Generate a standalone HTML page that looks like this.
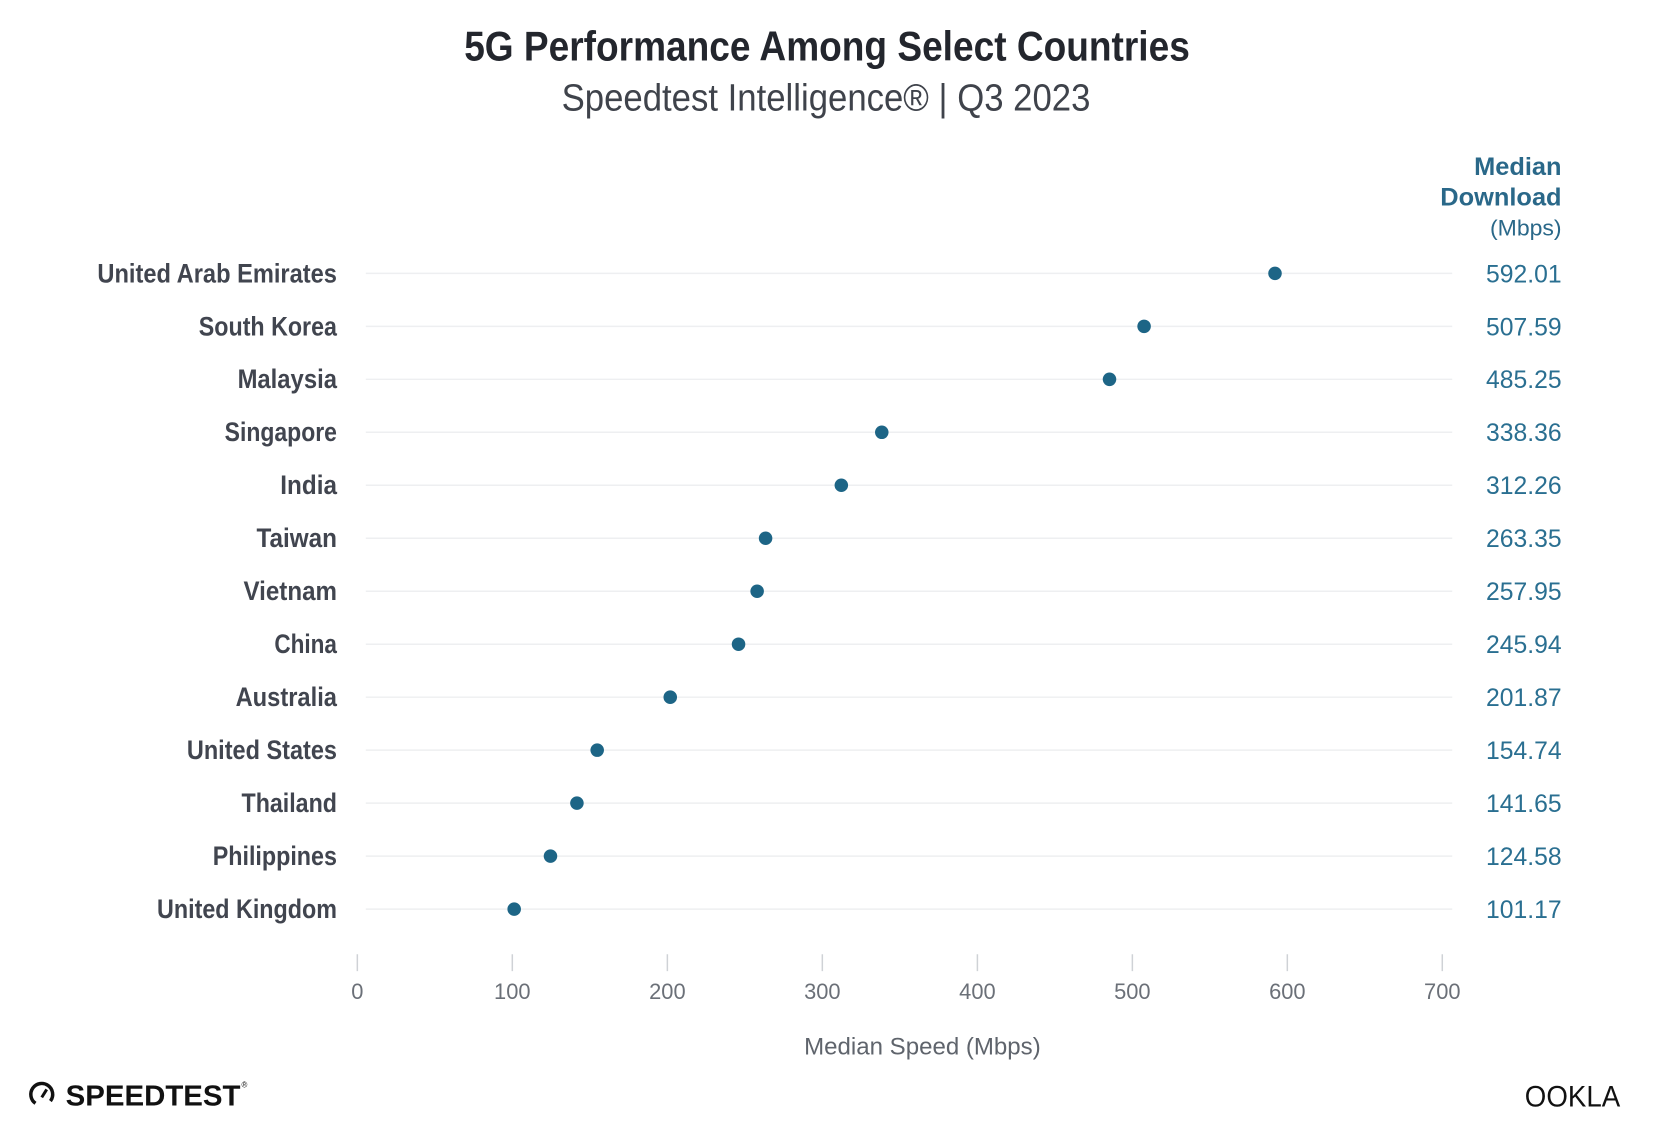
<!DOCTYPE html>
<html><head><meta charset="utf-8"><style>
html,body{margin:0;padding:0;background:#fff;}
svg{display:block;font-family:"Liberation Sans",sans-serif;}
</style></head><body>
<svg width="1664" height="1148" viewBox="0 0 1664 1148" xmlns="http://www.w3.org/2000/svg">
<g transform="scale(0.994)">
<text x="832" y="61" text-anchor="middle" font-size="42" font-weight="bold" fill="#23262d" textLength="730" lengthAdjust="spacingAndGlyphs">5G Performance Among Select Countries</text>
<text x="831" y="111" text-anchor="middle" font-size="38" fill="#3f434b" textLength="532" lengthAdjust="spacingAndGlyphs">Speedtest Intelligence® | Q3 2023</text>
<g fill="#2a6889" text-anchor="end">
<text x="1571" y="176" font-size="25" font-weight="bold" textLength="88" lengthAdjust="spacingAndGlyphs">Median</text>
<text x="1571" y="207" font-size="25" font-weight="bold" textLength="122" lengthAdjust="spacingAndGlyphs">Download</text>
<text x="1571" y="237" font-size="22" textLength="72" lengthAdjust="spacingAndGlyphs">(Mbps)</text>
</g>
<g stroke="#eeeff1" stroke-width="1.5">
<line x1="368" y1="275" x2="1461" y2="275"/><line x1="368" y1="328.3" x2="1461" y2="328.3"/><line x1="368" y1="381.6" x2="1461" y2="381.6"/><line x1="368" y1="434.9" x2="1461" y2="434.9"/><line x1="368" y1="488.2" x2="1461" y2="488.2"/><line x1="368" y1="541.5" x2="1461" y2="541.5"/><line x1="368" y1="594.8" x2="1461" y2="594.8"/><line x1="368" y1="648.1" x2="1461" y2="648.1"/><line x1="368" y1="701.4" x2="1461" y2="701.4"/><line x1="368" y1="754.7" x2="1461" y2="754.7"/><line x1="368" y1="808" x2="1461" y2="808"/><line x1="368" y1="861.3" x2="1461" y2="861.3"/><line x1="368" y1="914.6" x2="1461" y2="914.6"/>
</g>
<g font-size="27" font-weight="bold" fill="#41454f" text-anchor="end">
<text x="339" y="284" textLength="241" lengthAdjust="spacingAndGlyphs">United Arab Emirates</text>
<text x="339" y="337.3" textLength="139" lengthAdjust="spacingAndGlyphs">South Korea</text>
<text x="339" y="390.6" textLength="100" lengthAdjust="spacingAndGlyphs">Malaysia</text>
<text x="339" y="443.9" textLength="113" lengthAdjust="spacingAndGlyphs">Singapore</text>
<text x="339" y="497.2" textLength="57" lengthAdjust="spacingAndGlyphs">India</text>
<text x="339" y="550.5" textLength="81" lengthAdjust="spacingAndGlyphs">Taiwan</text>
<text x="339" y="603.8" textLength="94" lengthAdjust="spacingAndGlyphs">Vietnam</text>
<text x="339" y="657.1" textLength="63" lengthAdjust="spacingAndGlyphs">China</text>
<text x="339" y="710.4" textLength="102" lengthAdjust="spacingAndGlyphs">Australia</text>
<text x="339" y="763.7" textLength="151" lengthAdjust="spacingAndGlyphs">United States</text>
<text x="339" y="817" textLength="96" lengthAdjust="spacingAndGlyphs">Thailand</text>
<text x="339" y="870.3" textLength="125" lengthAdjust="spacingAndGlyphs">Philippines</text>
<text x="339" y="923.6" textLength="181" lengthAdjust="spacingAndGlyphs">United Kingdom</text>
</g>
<g fill="#1d6586">
<circle cx="1282.7" cy="275" r="6.8"/><circle cx="1151" cy="328.3" r="6.8"/><circle cx="1116.2" cy="381.6" r="6.8"/><circle cx="887.1" cy="434.9" r="6.8"/><circle cx="846.4" cy="488.2" r="6.8"/><circle cx="770.2" cy="541.5" r="6.8"/><circle cx="761.7" cy="594.8" r="6.8"/><circle cx="743" cy="648.1" r="6.8"/><circle cx="674.3" cy="701.4" r="6.8"/><circle cx="600.8" cy="754.7" r="6.8"/><circle cx="580.4" cy="808" r="6.8"/><circle cx="553.8" cy="861.3" r="6.8"/><circle cx="517.3" cy="914.6" r="6.8"/>
</g>
<g font-size="25" fill="#2a6f91" text-anchor="end">
<text x="1571" y="284" textLength="76" lengthAdjust="spacingAndGlyphs">592.01</text>
<text x="1571" y="337.3" textLength="76" lengthAdjust="spacingAndGlyphs">507.59</text>
<text x="1571" y="390.6" textLength="76" lengthAdjust="spacingAndGlyphs">485.25</text>
<text x="1571" y="443.9" textLength="76" lengthAdjust="spacingAndGlyphs">338.36</text>
<text x="1571" y="497.2" textLength="76" lengthAdjust="spacingAndGlyphs">312.26</text>
<text x="1571" y="550.5" textLength="76" lengthAdjust="spacingAndGlyphs">263.35</text>
<text x="1571" y="603.8" textLength="76" lengthAdjust="spacingAndGlyphs">257.95</text>
<text x="1571" y="657.1" textLength="76" lengthAdjust="spacingAndGlyphs">245.94</text>
<text x="1571" y="710.4" textLength="76" lengthAdjust="spacingAndGlyphs">201.87</text>
<text x="1571" y="763.7" textLength="76" lengthAdjust="spacingAndGlyphs">154.74</text>
<text x="1571" y="817" textLength="76" lengthAdjust="spacingAndGlyphs">141.65</text>
<text x="1571" y="870.3" textLength="76" lengthAdjust="spacingAndGlyphs">124.58</text>
<text x="1571" y="923.6" textLength="76" lengthAdjust="spacingAndGlyphs">101.17</text>
</g>
<g stroke="#cfd2d6" stroke-width="1.5">
<line x1="359.5" y1="960" x2="359.5" y2="977"/><line x1="515.4" y1="960" x2="515.4" y2="977"/><line x1="671.4" y1="960" x2="671.4" y2="977"/><line x1="827.3" y1="960" x2="827.3" y2="977"/><line x1="983.3" y1="960" x2="983.3" y2="977"/><line x1="1139.2" y1="960" x2="1139.2" y2="977"/><line x1="1295.1" y1="960" x2="1295.1" y2="977"/><line x1="1451" y1="960" x2="1451" y2="977"/>
</g>
<g fill="#6b7078" font-size="22" text-anchor="middle">
<text x="359.5" y="1005">0</text><text x="515.4" y="1005">100</text><text x="671.4" y="1005">200</text><text x="827.3" y="1005">300</text><text x="983.3" y="1005">400</text><text x="1139.2" y="1005">500</text><text x="1295.1" y="1005">600</text><text x="1451" y="1005">700</text>
</g>
<text x="928" y="1061" text-anchor="middle" font-size="24" fill="#5f646c" textLength="238" lengthAdjust="spacingAndGlyphs">Median Speed (Mbps)</text>
<g>
<circle cx="42" cy="1101" r="11" fill="none" stroke="#111" stroke-width="3.5" stroke-dasharray="52 17" transform="rotate(125 42 1101)"/>
<line x1="42" y1="1104" x2="47" y2="1096" stroke="#111" stroke-width="3"/>
<text x="66" y="1112" font-size="29" font-weight="bold" fill="#111" textLength="176" lengthAdjust="spacingAndGlyphs">SPEEDTEST</text>
<text x="243" y="1094" font-size="8" fill="#111">®</text>
<text x="1534" y="1113" font-size="30" fill="#111" textLength="96" lengthAdjust="spacingAndGlyphs">OOKLA</text>
</g>
</g>
</svg>
</body></html>
